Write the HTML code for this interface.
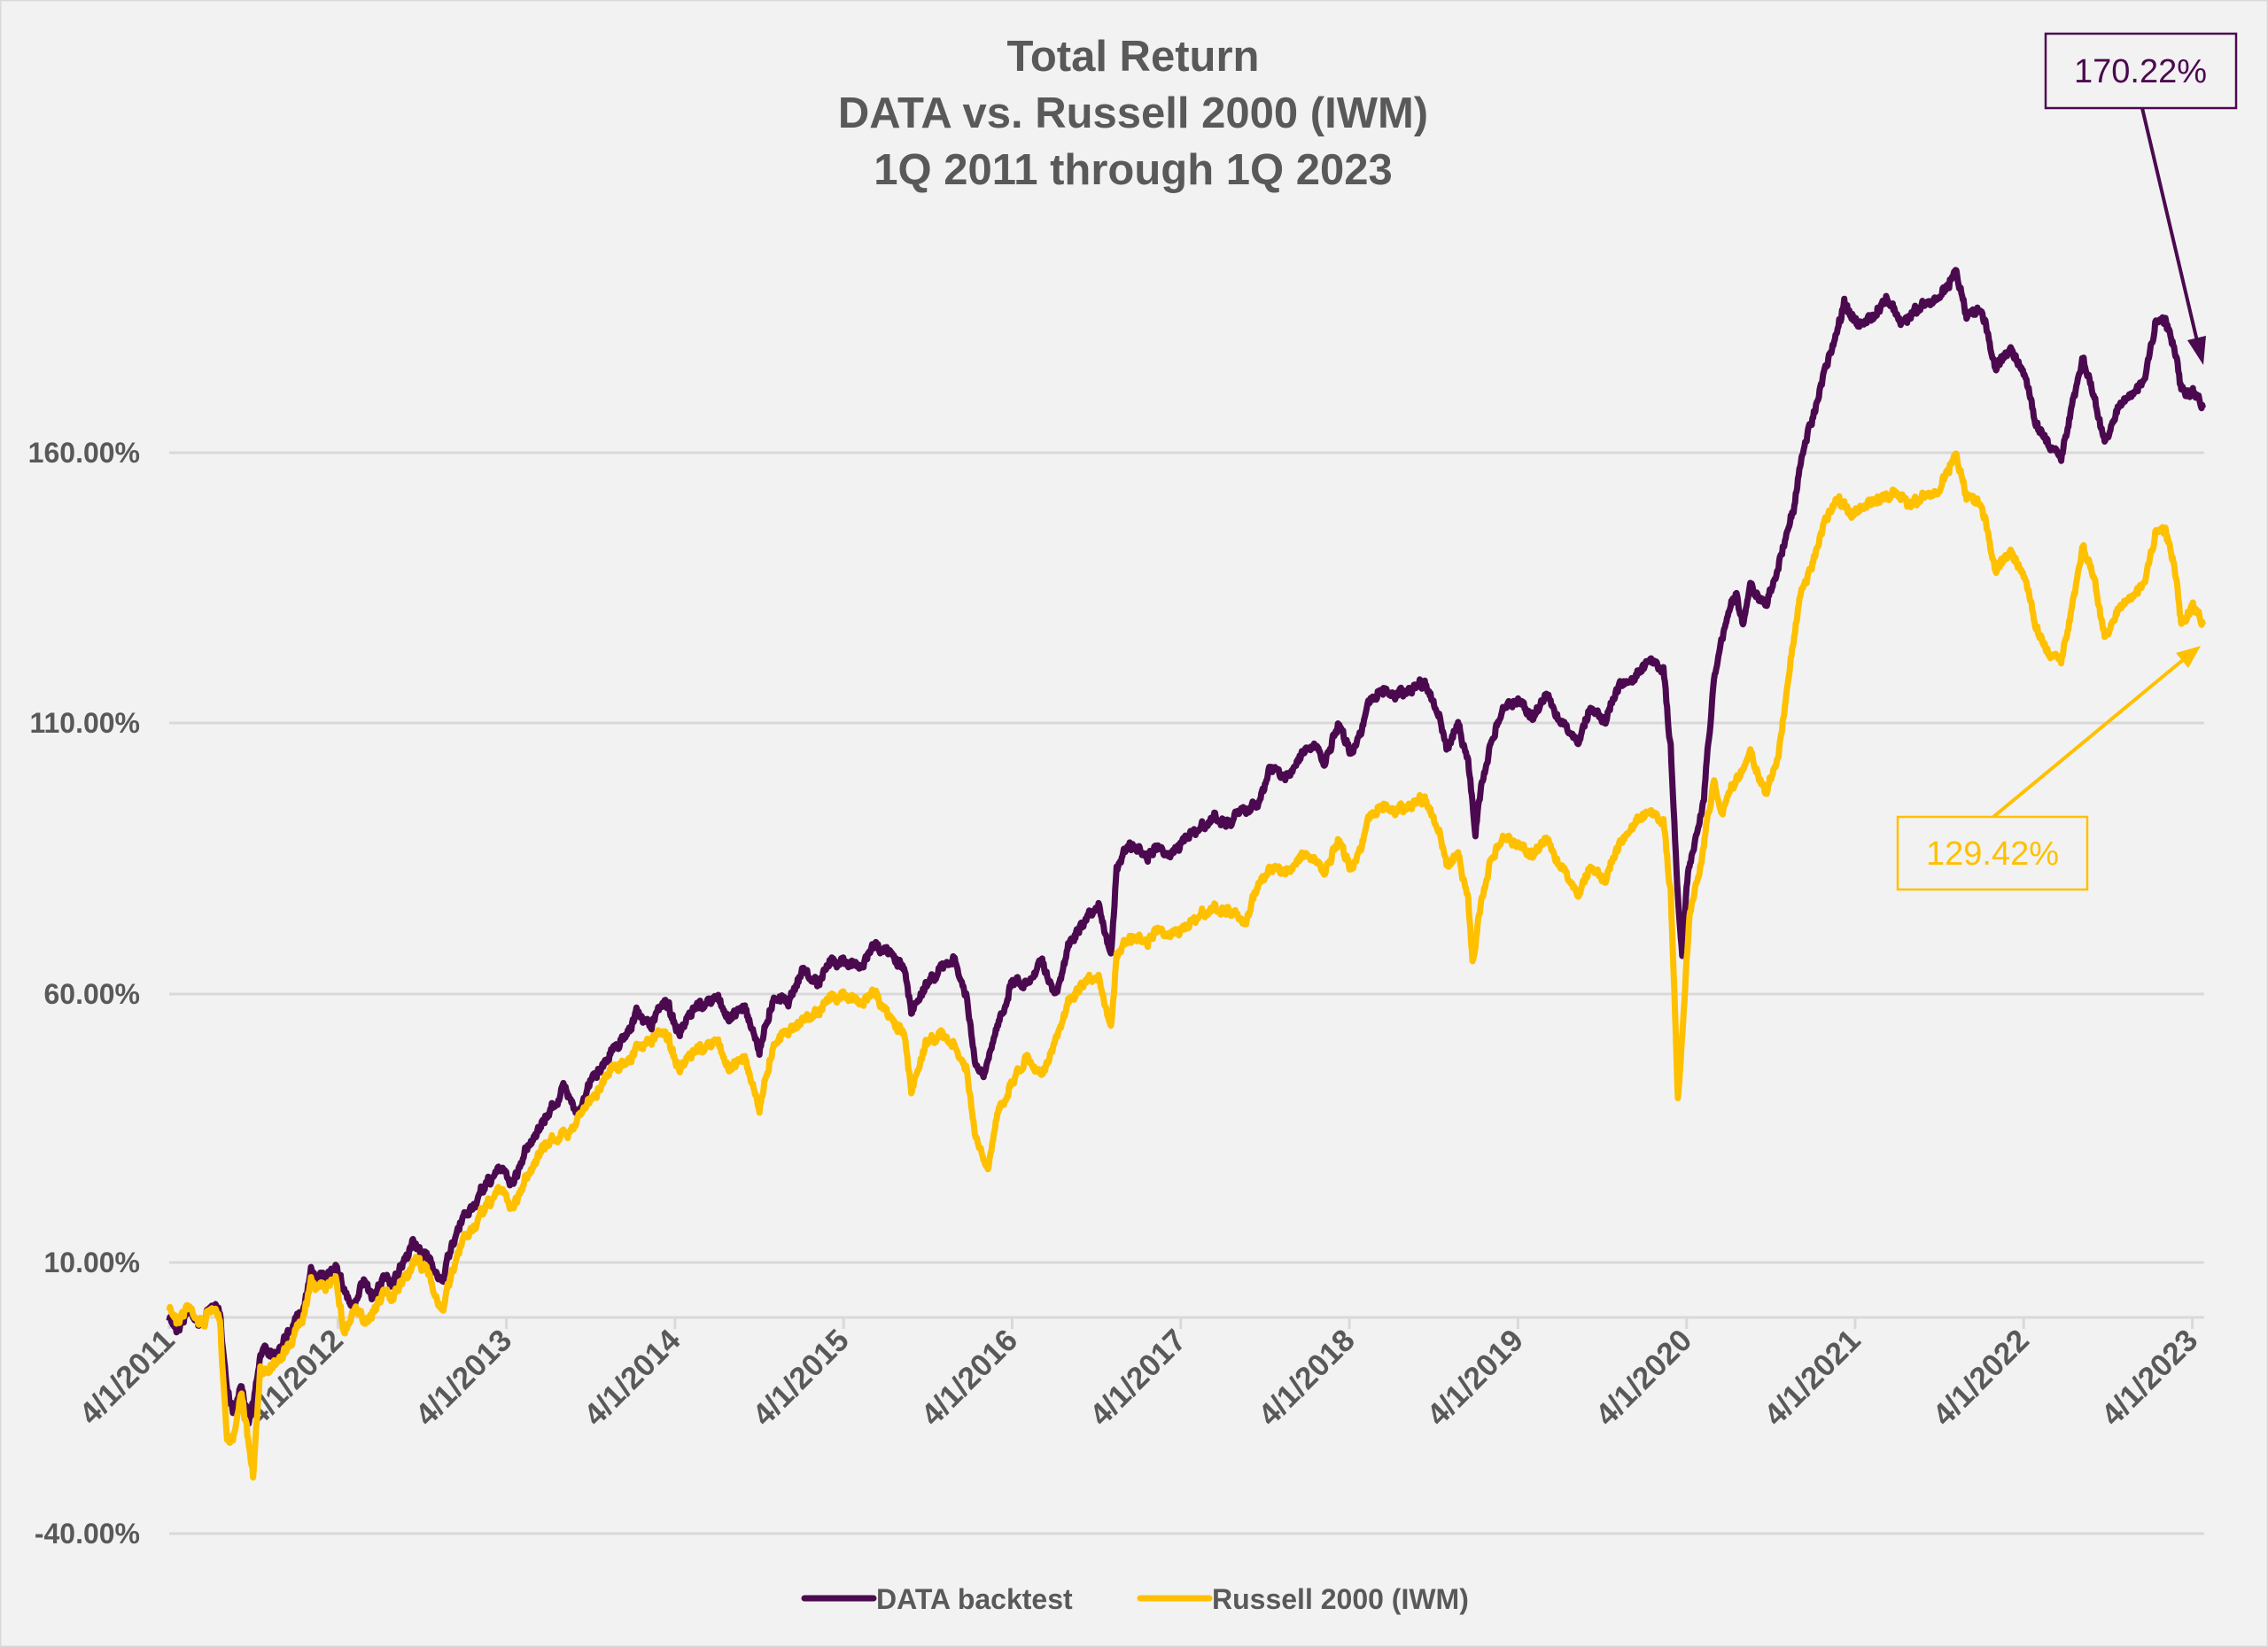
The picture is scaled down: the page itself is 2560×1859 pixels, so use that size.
<!DOCTYPE html>
<html><head><meta charset="utf-8">
<style>
html,body{margin:0;padding:0;background:#f2f2f2;}
svg{display:block;}
text{font-family:"Liberation Sans",sans-serif;fill:#595959;}
</style></head>
<body>
<svg id="s" width="2560" height="1859" viewBox="0 0 2560 1859" xmlns="http://www.w3.org/2000/svg">
<rect x="0" y="0" width="2560" height="1859" fill="#f2f2f2" stroke="#d9d9d9" stroke-width="3"/>
<g font-size="49" font-weight="bold" text-anchor="middle">
<text x="1279" y="80">Total Return</text>
<text x="1279" y="144">DATA vs. Russell 2000 (IWM)</text>
<text x="1279" y="208">1Q 2011 through 1Q 2023</text>
</g>
<g stroke="#d9d9d9" stroke-width="3">
<line x1="191" y1="511" x2="2488" y2="511"/>
<line x1="191" y1="816" x2="2488" y2="816"/>
<line x1="191" y1="1122" x2="2488" y2="1122"/>
<line x1="191" y1="1425" x2="2488" y2="1425"/>
<line x1="191" y1="1731" x2="2488" y2="1731"/>
<line x1="191" y1="1487" x2="2488" y2="1487"/>
</g>
<g font-size="32" font-weight="bold" text-anchor="end">
<text x="158" y="522">160.00%</text>
<text x="158" y="827">110.00%</text>
<text x="158" y="1133">60.00%</text>
<text x="158" y="1436">10.00%</text>
<text x="158" y="1742">-40.00%</text>
</g>
<g id="ticks" stroke="#d9d9d9" stroke-width="3"></g>
<g id="xl" font-size="35" font-weight="bold" text-anchor="end"></g>
<g id="series" fill="none" stroke-width="7" stroke-linejoin="round"></g>
<rect x="2309" y="38" width="215" height="84" fill="none" stroke="#4b0a4f" stroke-width="2.5"/>
<text x="2416" y="93" font-size="38" text-anchor="middle" style="fill:#4b0a4f">170.22%</text>
<line x1="2418" y1="122" x2="2480" y2="385" stroke="#4b0a4f" stroke-width="4"/>
<polygon points="2487,412 2469,384 2490,379" fill="#4b0a4f"/>
<rect x="2142" y="922" width="214" height="82" fill="none" stroke="#ffc000" stroke-width="2.5"/>
<text x="2249" y="976" font-size="38" text-anchor="middle" style="fill:#ffc000">129.42%</text>
<line x1="2250" y1="922" x2="2465" y2="744" stroke="#ffc000" stroke-width="4"/>
<polygon points="2484,729 2470,754 2456,737" fill="#ffc000"/>
<line x1="908" y1="1804" x2="986" y2="1804" stroke="#4b0a4f" stroke-width="7" stroke-linecap="round"/>
<text x="989" y="1816" font-size="32" font-weight="bold">DATA backtest</text>
<line x1="1287" y1="1804" x2="1365" y2="1804" stroke="#ffc000" stroke-width="7" stroke-linecap="round"/>
<text x="1368" y="1816" font-size="32" font-weight="bold">Russell 2000 (IWM)</text>
</svg>
<script>
var NS="http://www.w3.org/2000/svg",K=1.6327;
var tk=document.getElementById("ticks"),xl=document.getElementById("xl");
for(var i=0;i<=12;i++){var x=191+i*190.3;
var l=document.createElementNS(NS,"line");l.setAttribute("x1",x);l.setAttribute("x2",x);l.setAttribute("y1",1487);l.setAttribute("y2",1500);tk.appendChild(l);
var t=document.createElementNS(NS,"text");t.setAttribute("transform","translate("+(x+8)+",1515) rotate(-45)");t.textContent="4/1/"+(2011+i);xl.appendChild(t);}
var P=[117,912,122,918,130,905,140,915,147,900,152,910,157,960,162,975,167,955,172,985,177,960,182,930,190,935,200,920,210,900,215,878,225,885,232,872,240,895,245,905,252,885,258,895,265,880,272,888,280,870,285,858,290,865,298,872,305,885,310,870,320,845,330,830,340,815,345,808,355,818,365,790,375,778,385,760,390,752,400,768,410,745,420,730,430,718,440,700,450,710,460,690,470,715,480,700,495,690,505,705,515,695,525,725,535,688,545,690,555,670,565,680,575,665,585,662,595,670,605,652,615,660,625,670,630,700,640,680,650,670,660,665,668,690,675,740,680,745,690,710,700,675,710,680,720,660,730,690,740,650,750,640,760,630,768,660,772,600,780,580,790,590,800,585,810,590,820,578,830,575,840,565,850,570,860,560,870,555,878,530,888,540,900,520,910,515,915,530,925,505,935,520,945,490,955,475,965,480,975,475,985,470,995,495,1000,520,1008,500,1015,525,1020,575,1025,540,1030,515,1040,490,1050,485,1060,495,1070,480,1080,500,1090,515,1100,490,1110,495,1120,475,1130,470,1140,460,1150,465,1155,520,1160,620,1163,660,1167,600,1172,580,1178,550,1185,470,1190,440,1200,410,1205,430,1210,405,1220,420,1230,390,1240,350,1245,320,1250,300,1255,280,1262,255,1270,230,1275,210,1285,225,1295,220,1305,205,1315,225,1325,215,1335,210,1345,200,1352,185,1360,220,1370,215,1380,255,1390,240,1400,260,1407,290,1415,305,1425,315,1432,280,1440,245,1448,275,1455,305,1465,280,1475,270,1482,265,1490,225,1497,220,1503,240,1508,268,1515,272,1523,282];
var Y=[117,905,122,912,130,902,140,915,147,902,152,915,157,995,162,990,167,960,172,1000,175,1020,180,950,190,940,200,930,210,905,215,885,225,892,232,880,238,920,245,905,252,915,258,905,265,890,272,898,280,882,288,870,296,880,305,905,310,890,320,860,330,845,340,830,345,822,355,835,365,810,375,795,385,785,392,785,400,770,410,760,420,740,430,735,440,725,450,720,460,712,470,740,480,730,495,720,505,740,515,730,525,765,535,720,545,710,555,705,565,700,575,690,585,685,595,695,605,685,615,705,625,715,630,755,640,720,650,715,660,725,668,740,675,790,683,810,690,770,700,745,710,730,720,740,730,720,740,690,750,682,760,680,768,710,772,660,780,645,790,650,800,642,810,645,820,640,830,635,840,628,850,630,860,640,870,610,878,600,888,605,900,590,910,595,915,605,925,585,935,600,945,570,955,555,965,560,975,555,985,550,995,575,1000,600,1008,590,1015,620,1018,665,1025,620,1030,595,1040,580,1050,585,1060,590,1070,580,1080,600,1090,620,1100,600,1110,605,1120,585,1130,570,1140,565,1150,570,1155,620,1158,700,1160,760,1164,700,1168,630,1175,600,1185,540,1190,560,1200,540,1210,520,1220,550,1230,520,1240,440,1245,410,1250,400,1255,380,1262,360,1270,345,1280,355,1290,350,1300,345,1310,340,1320,350,1330,345,1340,340,1352,312,1360,345,1370,350,1380,395,1390,380,1400,400,1407,430,1415,450,1425,455,1432,420,1440,375,1448,400,1455,440,1465,420,1475,410,1482,405,1490,370,1497,365,1503,390,1508,430,1515,420,1523,432];
var seed=7;function rnd(){seed=(seed*16807)%2147483647;return seed/2147483647;}
var noise=[];var n=0,m=0;
for(var x=117;x<=1530;x+=0.5){m=m*0.92+(rnd()-0.5)*2.2;n=n*0.4+(rnd()-0.5)*5;noise.push(n+m);}
function build(A,col,off){var d="",k=off;
for(var i=0;i<A.length-2;i+=2){var x0=A[i],y0=A[i+1],x1=A[i+2],y1=A[i+3];
for(var x=x0;x<x1;x+=0.5){var t=(x-x0)/(x1-x0);var y=y0+(y1-y0)*t+(noise[k++]||0);
d+=(d?"L":"M")+(x*K).toFixed(1)+" "+(y*K).toFixed(1);}}
d+="L"+(A[A.length-2]*K).toFixed(1)+" "+(A[A.length-1]*K).toFixed(1);
var p=document.createElementNS(NS,"path");p.setAttribute("d",d);p.setAttribute("stroke",col);document.getElementById("series").appendChild(p);}
build(P,"#4b0a4f",0);build(Y,"#ffc000",0);
</script>
</body></html>
